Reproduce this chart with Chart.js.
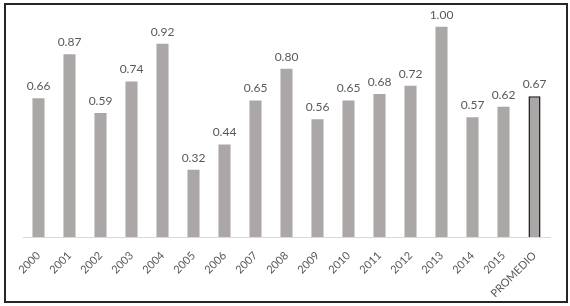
<!DOCTYPE html>
<html>
<head>
<meta charset="utf-8">
<script src="https://cdn.jsdelivr.net/npm/chart.js@4"></script>
<style>
  html, body { margin: 0; padding: 0; background: #fff; }
  #wrap { position: relative; width: 570px; height: 306px; }
  #frame { position: absolute; left: 4px; top: 3px; width: 560px; height: 296px; border: 2px solid #262626; pointer-events: none; }
  canvas { position: absolute; left: 0; top: 0; }
</style>
</head>
<body>
<div id="wrap">
  <canvas id="chart" width="570" height="306"></canvas>
  <div id="frame"></div>
</div>
<script>
// categories and values
const years = ["2000", "2001", "2002", "2003", "2004", "2005", "2006", "2007", "2008",
               "2009", "2010", "2011", "2012", "2013", "2014", "2015", "PROMEDIO"];
const ratios = [0.66, 0.87, 0.59, 0.74, 0.92, 0.32, 0.44, 0.65, 0.80,
                0.56, 0.65, 0.68, 0.72, 1.00, 0.57, 0.62, 0.67];

const barGray = "#aba7a6";
const textGray = "#595959";

// value labels above bars
const valueLabels = {
    id: "valueLabels",
    afterDatasetsDraw(chart) {
        const ctx = chart.ctx;
        const meta = chart.getDatasetMeta(0);
        ctx.save();
        ctx.font = "12px Lato";
        ctx.fillStyle = textGray;
        ctx.textAlign = "center";
        ctx.textBaseline = "bottom";
        meta.data.forEach((bar, i) => {
            ctx.fillText(ratios[i].toFixed(2), bar.x, bar.y - 6);
        });
        ctx.restore();
    }
};

new Chart(document.getElementById("chart").getContext("2d"), {
    type: "bar",
    data: {
        labels: years,
        datasets: [{
            data: ratios,
            backgroundColor: barGray,
            borderColor: years.map(y => y === "PROMEDIO" ? "#1a1a1a" : barGray),
            borderWidth: years.map(y => y === "PROMEDIO" ? 1.5 : 0),
            borderSkipped: "bottom",
            barPercentage: 0.39,
            categoryPercentage: 1
        }]
    },
    options: {
        responsive: false,
        animation: false,
        layout: { padding: { left: 23, right: 20, top: 10, bottom: 9 } },
        plugins: { legend: { display: false }, tooltip: { enabled: false } },
        scales: {
            x: {
                grid: { display: false },
                border: { display: true, color: "#d9d9d9", width: 1 },
                ticks: { color: textGray, font: { family: "Lato", size: 11 }, minRotation: 45, maxRotation: 45, padding: 4 },
                afterFit: s => { s.height = 60; }
            },
            y: { display: false, min: 0, max: 1.08 }
        }
    },
    plugins: [valueLabels]
});
</script>
</body>
</html>
